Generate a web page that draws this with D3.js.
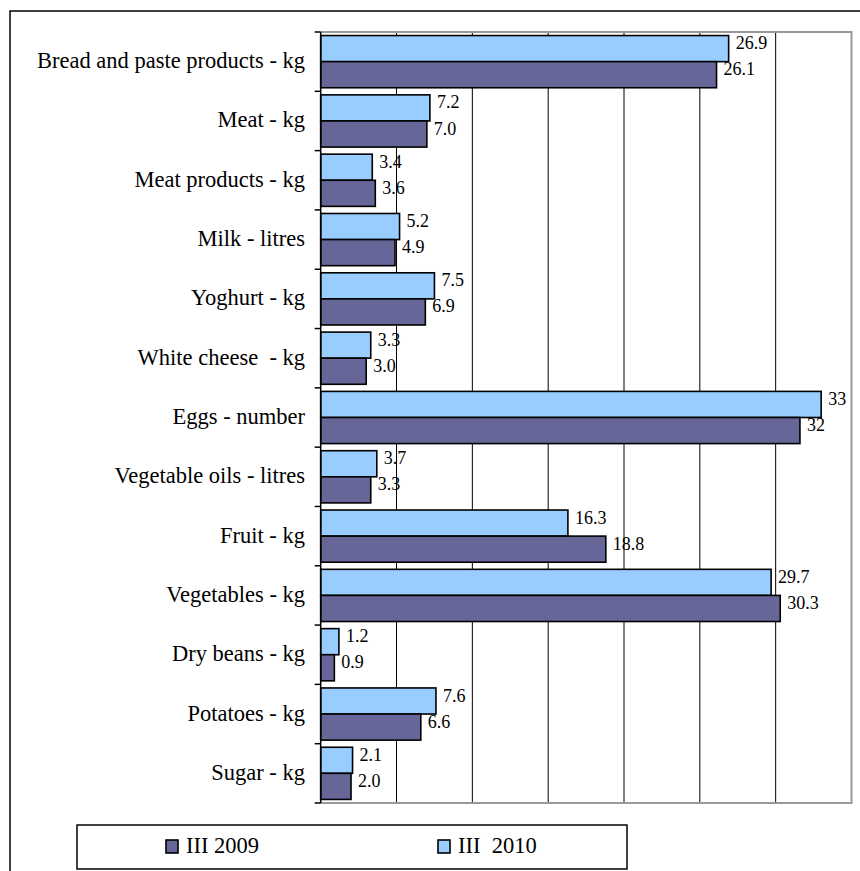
<!DOCTYPE html>
<html>
<head>
<meta charset="utf-8">
<script src="https://cdn.jsdelivr.net/npm/d3@7"></script>
<style>
  html, body { margin: 0; padding: 0; background: #fff; }
</style>
</head>
<body>
<script>
const categories = [
  "Bread and paste products - kg",
  "Meat - kg",
  "Meat products - kg",
  "Milk - litres",
  "Yoghurt - kg",
  "White cheese  - kg",
  "Eggs - number",
  "Vegetable oils - litres",
  "Fruit - kg",
  "Vegetables - kg",
  "Dry beans - kg",
  "Potatoes - kg",
  "Sugar - kg"
];
const values2010 = [26.9, 7.2, 3.4, 5.2, 7.5, 3.3, 33.0, 3.7, 16.3, 29.7, 1.2, 7.6, 2.1];
const values2009 = [26.1, 7.0, 3.6, 4.9, 6.9, 3.0, 31.6, 3.3, 18.8, 30.3, 0.9, 6.6, 2.0];
const seriesNames = ["III 2009", "III  2010"];
const integerLabelCategories = ["Eggs - number"];
const xTicks = [0, 5, 10, 15, 20, 25, 30, 35];

const W = 860, H = 871;
const plot = { left: 320.7, right: 851.5, top: 32, bottom: 803 };
const col2010 = "#99CCFF", col2009 = "#666699";

function serif(sel, size) {
  return sel.attr("font-family", "Liberation Serif")
    .attr("font-size", size)
    .style("font-family", '"Liberation Serif", "Times New Roman", Tinos, serif')
    .style("font-size", size + "px");
}

const svg = d3.select("body").append("svg").attr("width", W).attr("height", H);
svg.append("rect").attr("width", W).attr("height", H).attr("fill", "#fff");

svg.append("rect").attr("x", 10).attr("y", 11).attr("width", 900).attr("height", 900)
  .attr("fill", "none").attr("stroke", "#000").attr("stroke-width", 1.5);

const x = d3.scaleLinear().domain([0, 35]).range([plot.left, plot.right]);
const y = d3.scaleBand().domain(categories).range([plot.top, plot.bottom])
  .paddingInner(0.12).paddingOuter(0.06);
const ySeries = d3.scaleBand().domain(["2010", "2009"]).range([0, y.bandwidth()]);

svg.append("g").selectAll("line").data(xTicks.filter(t => t > 0 && t < 35)).join("line")
  .attr("x1", d => x(d)).attr("x2", d => x(d))
  .attr("y1", plot.top).attr("y2", plot.bottom)
  .attr("stroke", "#000").attr("stroke-width", 1);

svg.append("path")
  .attr("d", `M${plot.left},${plot.top}H${plot.right}V${plot.bottom}H${plot.left}`)
  .attr("fill", "none").attr("stroke", "#999").attr("stroke-width", 2);

const rows = categories.map((c, i) => ({ cat: c, v2010: values2010[i], v2009: values2009[i] }));
const fmt = (cat, v) => integerLabelCategories.includes(cat) ? d3.format(".0f")(v) : d3.format(".1f")(v);

const grp = svg.append("g").selectAll("g.cat").data(rows).join("g").attr("class", "cat")
  .attr("transform", d => `translate(0,${y(d.cat)})`);

[["2010", "v2010", col2010], ["2009", "v2009", col2009]].forEach(([key, field, col]) => {
  grp.append("rect")
    .attr("x", x(0))
    .attr("y", ySeries(key))
    .attr("width", d => x(d[field]) - x(0))
    .attr("height", ySeries.bandwidth())
    .attr("fill", col).attr("stroke", "#000").attr("stroke-width", 1.6);
  serif(grp.append("text"), 18)
    .attr("x", d => x(d[field]) + 7)
    .attr("y", ySeries(key) + ySeries.bandwidth() / 2 + 0.5)
    .attr("fill", "#000")
    .text(d => fmt(d.cat, d[field]));
});

const step = y.step();
const boundaries = d3.range(categories.length + 1).map(i => plot.top + i * step);
svg.append("line").attr("x1", plot.left).attr("x2", plot.left)
  .attr("y1", plot.top).attr("y2", plot.bottom).attr("stroke", "#000").attr("stroke-width", 1.5);
svg.append("g").selectAll("line").data(boundaries).join("line")
  .attr("x1", plot.left - 6).attr("x2", plot.left)
  .attr("y1", d => d).attr("y2", d => d)
  .attr("stroke", "#000").attr("stroke-width", 1.5);

serif(svg.append("g").selectAll("text").data(categories).join("text"), 22.5)
  .attr("x", 305)
  .attr("y", d => y(d) + y.bandwidth() / 2 + 6.5)
  .attr("text-anchor", "end")
  .attr("xml:space", "preserve")
  .style("white-space", "pre")
  .attr("fill", "#000")
  .text(d => d);

const lg = svg.append("g");
lg.append("rect").attr("x", 77).attr("y", 825).attr("width", 550).attr("height", 44)
  .attr("fill", "#fff").attr("stroke", "#000").attr("stroke-width", 1.5);
const legendItems = [
  { name: seriesNames[0], color: col2009, x: 166 },
  { name: seriesNames[1], color: col2010, x: 438 }
];
const li = lg.selectAll("g.li").data(legendItems).join("g").attr("class", "li");
li.append("rect").attr("x", d => d.x).attr("y", 840).attr("width", 12).attr("height", 13)
  .attr("fill", d => d.color).attr("stroke", "#000").attr("stroke-width", 1.6);
serif(li.append("text"), 22.5).attr("x", d => d.x + 20).attr("y", 853)
  .attr("xml:space", "preserve")
  .style("white-space", "pre")
  .attr("fill", "#000")
  .text(d => d.name);
</script>
</body>
</html>
